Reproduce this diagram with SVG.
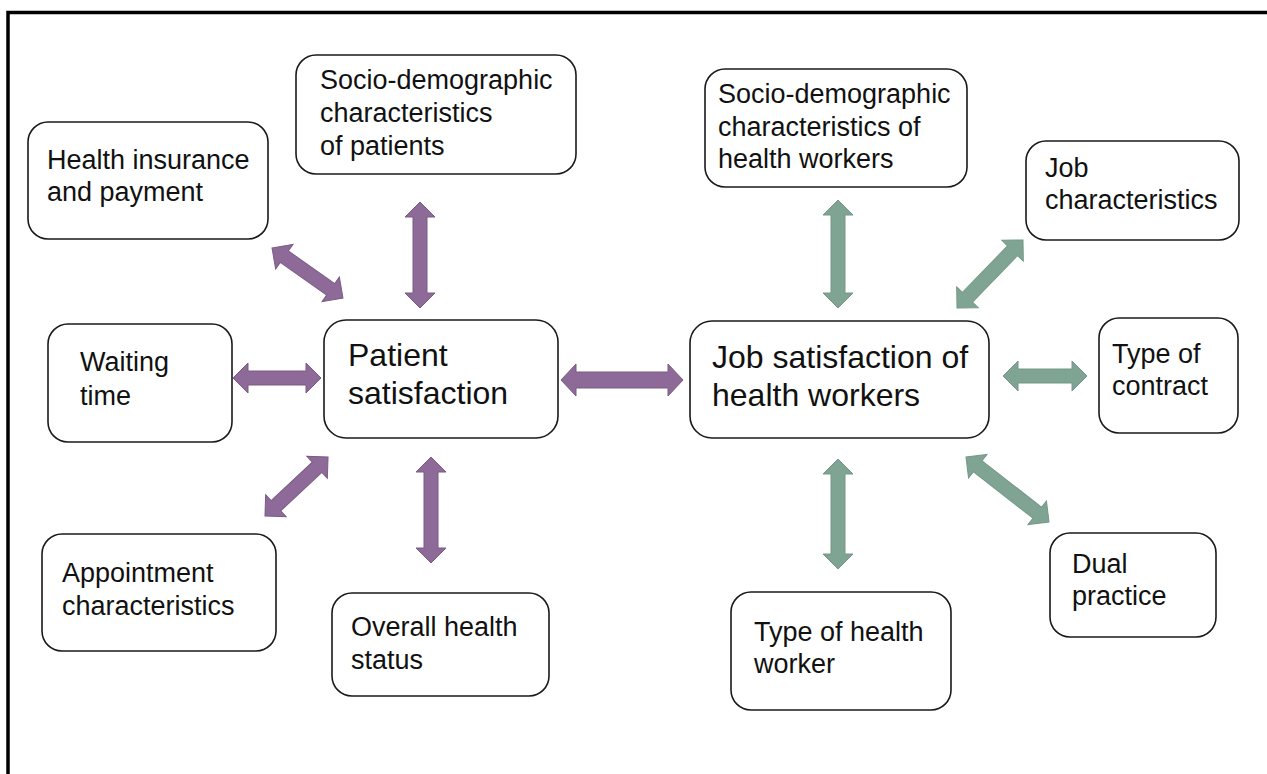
<svg xmlns="http://www.w3.org/2000/svg" width="1267" height="774" viewBox="0 0 1267 774">
  <style>
    .box { fill: #ffffff; stroke: #1a1a1a; stroke-width: 1.6; }
    .t { font-family: "Liberation Sans", Arial, sans-serif; font-size: 27px; fill: #111111; }
    .tl { font-family: "Liberation Sans", Arial, sans-serif; font-size: 32px; fill: #111111; }
    .purple { fill: #8d6a97; stroke: #7b5a85; stroke-width: 1; }
    .green { fill: #80a494; stroke: #749888; stroke-width: 1; }
  </style>

  <rect x="0" y="0" width="1267" height="774" fill="#ffffff"/>
  <!-- outer frame -->
  <rect x="8" y="12.5" width="1280" height="800" fill="none" stroke="#000000" stroke-width="3.5"/>

  <!-- double-headed arrows, each drawn along x and rotated into place -->
  <g id="connectors">
    <path class="purple" transform="translate(307.5,273) rotate(35.2)" d="M-43.4,0 L-28.4,-15 L-28.4,-7 L28.4,-7 L28.4,-15 L43.4,0 L28.4,15 L28.4,7 L-28.4,7 L-28.4,15 Z"/>
    <path class="purple" transform="translate(420,255) rotate(90)" d="M-53,0 L-38,-15 L-38,-7 L38,-7 L38,-15 L53,0 L38,15 L38,7 L-38,7 L-38,15 Z"/>
    <path class="purple" transform="translate(277,378)" d="M-44,0 L-29,-15 L-29,-7 L29,-7 L29,-15 L44,0 L29,15 L29,7 L-29,7 L-29,15 Z"/>
    <path class="purple" transform="translate(296.5,486.5) rotate(-43.1)" d="M-43.2,0 L-28.2,-15 L-28.2,-7 L28.2,-7 L28.2,-15 L43.2,0 L28.2,15 L28.2,7 L-28.2,7 L-28.2,15 Z"/>
    <path class="purple" transform="translate(431,510) rotate(90)" d="M-53,0 L-38,-15 L-38,-7 L38,-7 L38,-15 L53,0 L38,15 L38,7 L-38,7 L-38,15 Z"/>
    <path class="purple" transform="translate(622,380)" d="M-61,0 L-46,-16 L-46,-8 L46,-8 L46,-16 L61,0 L46,16 L46,8 L-46,8 L-46,16 Z"/>
    <path class="green" transform="translate(838,254) rotate(90)" d="M-54,0 L-39,-15 L-39,-7 L39,-7 L39,-15 L54,0 L39,15 L39,7 L-39,7 L-39,15 Z"/>
    <path class="green" transform="translate(990,274) rotate(-45.9)" d="M-47.4,0 L-32.4,-15 L-32.4,-7 L32.4,-7 L32.4,-15 L47.4,0 L32.4,15 L32.4,7 L-32.4,7 L-32.4,15 Z"/>
    <path class="green" transform="translate(1045,376)" d="M-42,0 L-27,-15 L-27,-7 L27,-7 L27,-15 L42,0 L27,15 L27,7 L-27,7 L-27,15 Z"/>
    <path class="green" transform="translate(1007.5,489.5) rotate(38)" d="M-52.7,0 L-37.7,-15 L-37.7,-7 L37.7,-7 L37.7,-15 L52.7,0 L37.7,15 L37.7,7 L-37.7,7 L-37.7,15 Z"/>
    <path class="green" transform="translate(838,514) rotate(90)" d="M-55,0 L-40,-15 L-40,-7 L40,-7 L40,-15 L55,0 L40,15 L40,7 L-40,7 L-40,15 Z"/>
  </g>

  <!-- patient side -->
  <g id="health-insurance">
    <rect class="box" x="28" y="122" width="240" height="117" rx="20"/>
    <text class="t" x="47" y="169">Health insurance</text>
    <text class="t" x="47" y="201">and payment</text>
  </g>
  <g id="socio-patients">
    <rect class="box" x="296" y="55" width="280" height="119" rx="20"/>
    <text class="t" x="320" y="89">Socio-demographic</text>
    <text class="t" x="320" y="122">characteristics</text>
    <text class="t" x="320" y="155">of patients</text>
  </g>
  <g id="patient-satisfaction">
    <rect class="box" x="324" y="320" width="234" height="118" rx="22"/>
    <text class="tl" x="348" y="366">Patient</text>
    <text class="tl" x="348" y="404">satisfaction</text>
  </g>
  <g id="waiting-time">
    <rect class="box" x="48" y="324" width="184" height="118" rx="20"/>
    <text class="t" x="80" y="371">Waiting</text>
    <text class="t" x="80" y="405">time</text>
  </g>
  <g id="appointment">
    <rect class="box" x="42" y="534" width="234" height="117" rx="20"/>
    <text class="t" x="62" y="582">Appointment</text>
    <text class="t" x="62" y="615">characteristics</text>
  </g>
  <g id="overall-health">
    <rect class="box" x="332" y="593" width="217" height="103" rx="20"/>
    <text class="t" x="351" y="636">Overall health</text>
    <text class="t" x="351" y="669">status</text>
  </g>

  <!-- health worker side -->
  <g id="socio-workers">
    <rect class="box" x="705" y="69" width="262" height="118" rx="20"/>
    <text class="t" x="718" y="103">Socio-demographic</text>
    <text class="t" x="718" y="136">characteristics of</text>
    <text class="t" x="718" y="168">health workers</text>
  </g>
  <g id="job-characteristics">
    <rect class="box" x="1026" y="141" width="213" height="99" rx="20"/>
    <text class="t" x="1045" y="177">Job</text>
    <text class="t" x="1045" y="209">characteristics</text>
  </g>
  <g id="job-satisfaction">
    <rect class="box" x="690" y="321" width="299" height="117" rx="22"/>
    <text class="tl" x="712" y="368">Job satisfaction of</text>
    <text class="tl" x="712" y="406">health workers</text>
  </g>
  <g id="type-of-contract">
    <rect class="box" x="1099" y="318" width="139" height="115" rx="20"/>
    <text class="t" x="1112" y="363">Type of</text>
    <text class="t" x="1112" y="395">contract</text>
  </g>
  <g id="dual-practice">
    <rect class="box" x="1050" y="533" width="166" height="104" rx="20"/>
    <text class="t" x="1072" y="573">Dual</text>
    <text class="t" x="1072" y="605">practice</text>
  </g>
  <g id="type-of-worker">
    <rect class="box" x="731" y="592" width="220" height="118" rx="20"/>
    <text class="t" x="754" y="641">Type of health</text>
    <text class="t" x="754" y="673">worker</text>
  </g>
</svg>
